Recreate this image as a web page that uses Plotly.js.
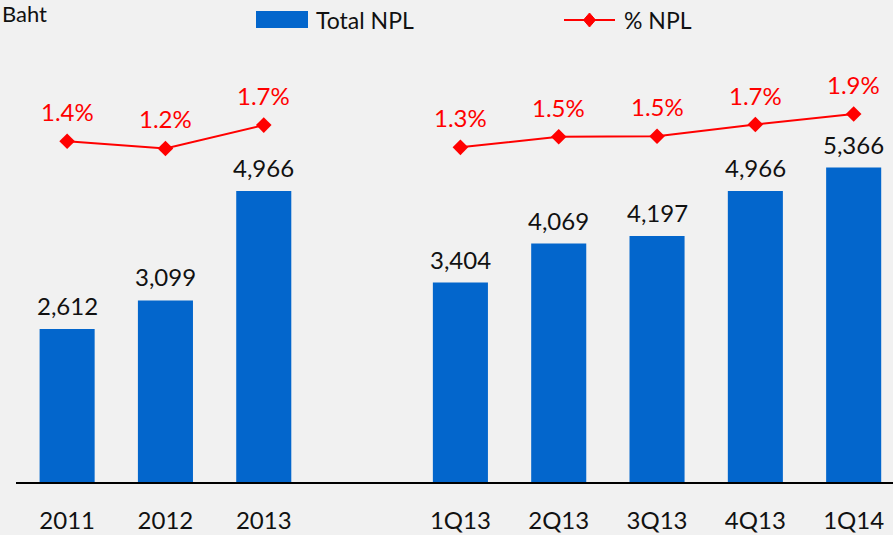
<!DOCTYPE html>
<html>
<head>
<meta charset="utf-8">
<script src="https://cdn.plot.ly/plotly-3.0.1.min.js"></script>
<style>
  html, body { margin: 0; padding: 0; background: #f1f1f1; }
  #chart { width: 893px; height: 535px; }
</style>
</head>
<body>
<div id="chart"></div>
<script>
// ---- data ----
const categories = ['2011', '2012', '2013', '1Q13', '2Q13', '3Q13', '4Q13', '1Q14'];
const totalNpl   = [2612, 3099, 4966, 3404, 4069, 4197, 4966, 5366];
const pctNpl     = [1.37, 1.24, 1.66, 1.26, 1.45, 1.46, 1.67, 1.86];
const pctLabels  = ['1.4%', '1.2%', '1.7%', '1.3%', '1.5%', '1.5%', '1.7%', '1.9%'];
const annualCount = 3;   // first three categories are years, a blank slot follows
const unitLabel = 'Baht';
const seriesNames = ['Total NPL', '% NPL'];

// ---- positions: leave one empty slot between years and quarters ----
const xPos = categories.map((c, i) => (i < annualCount ? i : i + 1));

// line with a break between annual and quarterly parts
const lineX = [], lineY = [];
xPos.forEach((x, i) => {
  if (i === annualCount) { lineX.push(annualCount); lineY.push(null); }
  lineX.push(x); lineY.push(pctNpl[i]);
});

const FONT = 'Lato, "Open Sans", sans-serif';
const BLUE = '#0366cc';
const RED = '#ff0000';

const traces = [
  {
    type: 'bar', x: xPos, y: totalNpl, name: seriesNames[0],
    marker: { color: BLUE, line: { width: 0 } },
    hoverinfo: 'skip', showlegend: false
  },
  {
    type: 'scatter', mode: 'lines+markers', x: lineX, y: lineY, yaxis: 'y2',
    name: seriesNames[1], connectgaps: false,
    line: { color: RED, width: 2 },
    marker: { symbol: 'diamond', size: 12, color: RED },
    hoverinfo: 'skip', showlegend: false
  }
];

const annotations = [];
xPos.forEach((x, i) => {
  annotations.push({
    x: x, y: totalNpl[i], xref: 'x', yref: 'y', yanchor: 'bottom',
    text: totalNpl[i].toLocaleString('en-US'), showarrow: false, yshift: 7,
    font: { family: FONT, size: 24, color: '#111111' }
  });
  annotations.push({
    x: x, y: pctNpl[i], xref: 'x', yref: 'y2', yanchor: 'bottom',
    text: pctLabels[i], showarrow: false, yshift: 13,
    font: { family: FONT, size: 24, color: RED }
  });
});

// unit label (top-left)
annotations.push({
  x: (0 - 16) / 877, y: 0.973, xref: 'paper', yref: 'paper', xanchor: 'left', yanchor: 'middle',
  text: unitLabel, showarrow: false, font: { family: FONT, size: 22, color: '#111111' }
});
// legend texts
annotations.push({
  x: (314 - 16) / 877, y: 0.9585, xref: 'paper', yref: 'paper', xanchor: 'left', yanchor: 'middle',
  text: seriesNames[0], showarrow: false, font: { family: FONT, size: 23, color: '#111111' }
});
annotations.push({
  x: (622 - 16) / 877, y: 0.9585, xref: 'paper', yref: 'paper', xanchor: 'left', yanchor: 'middle',
  text: seriesNames[1], showarrow: false, font: { family: FONT, size: 23, color: '#111111' }
});

const dx = 6 / 877, dy = 7 / 482, cx = (589.5 - 16) / 877, cy = 0.9585;
const shapes = [
  { type: 'rect', xref: 'paper', yref: 'paper', x0: (256 - 16) / 877, x1: (308 - 16) / 877, y0: 0.942, y1: 0.977,
    fillcolor: BLUE, line: { width: 0 } },
  { type: 'line', xref: 'paper', yref: 'paper', x0: (564 - 16) / 877, x1: (615 - 16) / 877, y0: cy, y1: cy,
    line: { color: RED, width: 2 } },
  { type: 'path', xref: 'paper', yref: 'paper',
    path: `M ${cx - dx} ${cy} L ${cx} ${cy + dy} L ${cx + dx} ${cy} L ${cx} ${cy - dy} Z`,
    fillcolor: RED, line: { color: RED, width: 1 } }
];

const layout = {
  width: 893, height: 535,
  margin: { l: 16, r: 0, t: 0, b: 53, pad: 0 },
  paper_bgcolor: '#f1f1f1', plot_bgcolor: '#f1f1f1',
  font: { family: FONT, color: '#111111' },
  bargap: 0.44,
  showlegend: false,
  xaxis: {
    range: [-0.52, 8.40], tickmode: 'array', tickvals: xPos, ticktext: categories,
    showgrid: false, zeroline: false, showline: true, linecolor: '#000000', linewidth: 2,
    ticks: '', ticklabelstandoff: 16,
    tickfont: { family: FONT, size: 24, color: '#111111' }, fixedrange: true
  },
  yaxis: {
    range: [0, 8227], showgrid: false, zeroline: false, showline: false,
    showticklabels: false, ticks: '', fixedrange: true
  },
  yaxis2: {
    range: [-4.759, 3.910], overlaying: 'y', side: 'right', showgrid: false, zeroline: false,
    showline: false, showticklabels: false, ticks: '', fixedrange: true
  },
  annotations: annotations,
  shapes: shapes
};

Plotly.newPlot('chart', traces, layout, { displayModeBar: false, staticPlot: true });
</script>
</body>
</html>
